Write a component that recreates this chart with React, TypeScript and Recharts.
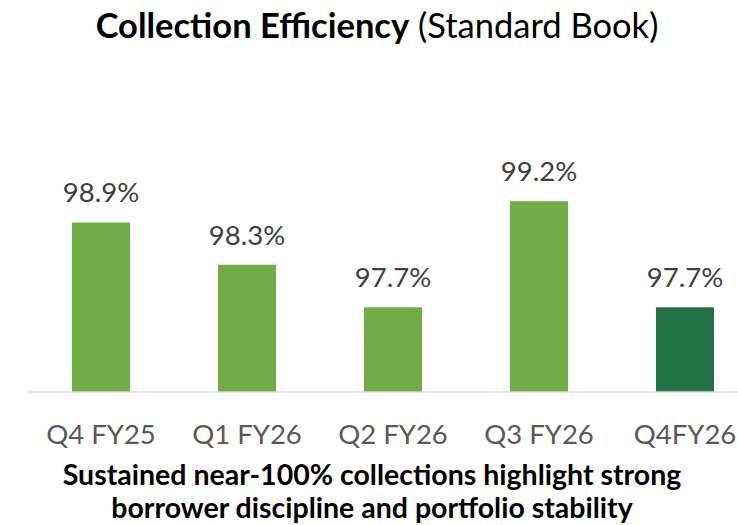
import React from 'react';
import { BarChart, Bar, XAxis, YAxis, Cell, LabelList } from 'recharts';

const categories = ['Q4 FY25', 'Q1 FY26', 'Q2 FY26', 'Q3 FY26', 'Q4FY26'];
const efficiency = [98.9, 98.3, 97.7, 99.2, 97.7];
const barColors = ['#70AD47', '#70AD47', '#70AD47', '#70AD47', '#217346'];
const titleBold = 'Collection Efficiency';
const titleRegular = ' (Standard Book)';
const subtitleLines = [
  'Sustained near-100% collections highlight strong',
  'borrower discipline and portfolio stability',
];

const data = categories.map((c, i) => ({ category: c, value: efficiency[i] }));

const FONT = 'Lato, "Open Sans", sans-serif';

const renderTick = (props: any) => {
  const { x, y, payload } = props;
  return (
    <text x={x} y={y} dy={52} textAnchor="middle" fill="#595959" fontFamily={FONT} fontSize={27.5}>
      {payload.value}
    </text>
  );
};

const renderLabel = (props: any) => {
  const { x, y, width, value } = props;
  return (
    <text x={x + width / 2} y={y - 20} textAnchor="middle" fill="#404040" fontFamily={FONT} fontSize={27.5}>
      {Number(value).toFixed(1)}%
    </text>
  );
};

export default function App() {
  return (
    <div style={{ position: 'absolute', left: 0, top: 0, width: 738, height: 525, overflow: 'hidden', background: '#fff' }}>
      <BarChart
        width={760}
        height={525}
        data={data}
        margin={{ top: 180, right: 2, left: 28, bottom: 93 }}
      >
        <XAxis
          dataKey="category"
          height={40}
          tickLine={false}
          tickSize={0}
          tickMargin={0}
          axisLine={{ stroke: '#D9D9D9', strokeWidth: 1.5 }}
          tick={renderTick}
          interval={0}
        />
        <YAxis hide domain={[96.5, 99.5]} allowDataOverflow />
        <Bar dataKey="value" barSize={58} isAnimationActive={false}>
          {data.map((d, i) => (
            <Cell key={d.category} fill={barColors[i]} />
          ))}
          <LabelList dataKey="value" content={renderLabel} />
        </Bar>
      </BarChart>
      <svg width={738} height={525} style={{ position: 'absolute', left: 0, top: 0, pointerEvents: 'none' }}>
        <text x={377} y={38} textAnchor="middle" fill="#000" fontFamily={FONT} fontSize={34.5}>
          <tspan fontWeight={700}>{titleBold}</tspan>
          <tspan fontWeight={400}>{titleRegular}</tspan>
        </text>
        {subtitleLines.map((line, i) => (
          <text key={i} x={372} y={485 + i * 33} textAnchor="middle" fill="#000" fontFamily={FONT} fontWeight={700} fontSize={28.5}>
            {line}
          </text>
        ))}
      </svg>
    </div>
  );
}
